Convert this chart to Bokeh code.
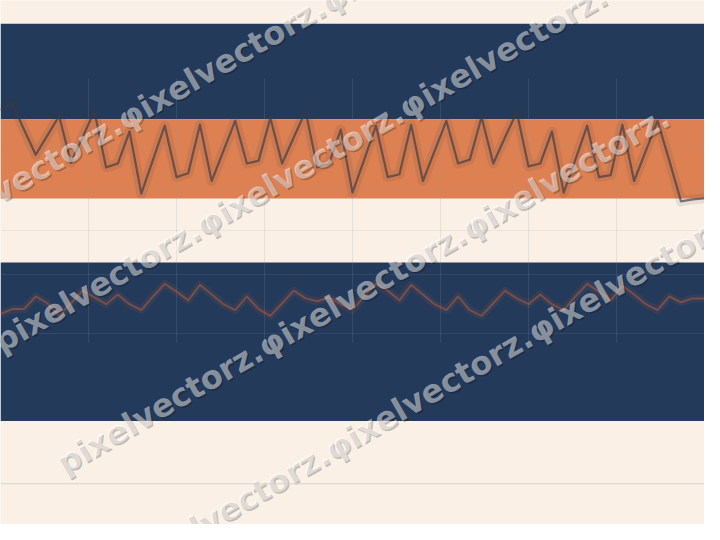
import math
import numpy as np
from bokeh.plotting import figure
from bokeh.models import Range1d, FixedTicker, Span, ColumnDataSource, Grid
from bokeh.core.properties import value
from bokeh.embed import file_html
from bokeh.resources import INLINE

# ---------------- data ----------------
x_index = list(range(61))
series_gray = [427, 434, 407, 381, 401, 421, 373, 399, 426, 368, 372, 405, 341, 376, 411,
               358, 362, 412, 354, 385, 416, 372, 375, 419, 372, 399, 426, 368, 372, 407,
               342, 376, 411, 358, 361, 412, 354, 385, 416, 372, 376, 420, 372, 399, 425,
               369, 372, 405, 342, 376, 411, 358, 360, 412, 354, 385, 416, 375, 333, 335, 336]
series_rust = [217, 222, 222, 235, 228, 215, 228, 241, 234, 227, 237, 227, 221, 235, 248,
               240, 231, 247, 237, 227, 221, 235, 222, 215, 228, 241, 233, 230, 234, 227,
               221, 235, 248, 241, 231, 247, 237, 227, 221, 235, 221, 215, 228, 241, 233,
               227, 237, 227, 221, 235, 248, 240, 231, 246, 237, 227, 221, 235, 229, 233, 233]
band_bottom = [417.5, 336, 106.7]
band_top = [516, 417.5, 270]
band_color = ["#243a5a", "#dd8052", "#243a5a"]
hgrid_values = [390, 346, 303, 258, 197]
baseline_value = 42
watermark_texts = [
    "pixelvectorz.φixelvectorz.φixelvectorz.",
    "pixelvectorz.φixelvectorz.φixelvectorz.",
    "pixelvectorz.φixelvectorz.φixelvectorz.",
    "pixelvectorz.φixelvectorz.φixelvectorz.φixelvectorz.",
]

# ---------------- figure ----------------
CREAM = "#faf0e6"
p = figure(width=704, height=524, output_backend="svg", toolbar_location=None,
           x_range=Range1d(0, 60), y_range=Range1d(0, 540),
           min_border=0, background_fill_color=CREAM, border_fill_color=CREAM,
           outline_line_color=None)
p.xaxis.visible = False
p.yaxis.visible = False

p.xgrid.ticker = FixedTicker(ticks=list(np.arange(7.5, 60, 7.5)))
p.xgrid.grid_line_color = "#8a9bb0"
p.xgrid.grid_line_alpha = 0.18
if "cross_bounds" in Grid.properties():
    p.xgrid.cross_bounds = (188, 460)
p.ygrid.ticker = FixedTicker(ticks=hgrid_values)
p.ygrid.grid_line_color = "#8a9bb0"
p.ygrid.grid_line_alpha = 0.15

bands = p.quad(left=min(x_index), right=max(x_index), bottom=band_bottom, top=band_top,
               fill_color=band_color, line_color=None)
bands.level = "image"

p.add_layout(Span(location=baseline_value, dimension="width", line_color="#d9d2cb", line_width=1))

# lines with soft halo
p.line(x_index, series_gray, line_color="#3a3a44", line_alpha=0.10, line_width=10, line_join="round")
p.line(x_index, series_gray, line_color="#3a3a44", line_alpha=0.66, line_width=2.2, line_join="round")
p.line(x_index, series_rust, line_color="#c0603a", line_alpha=0.10, line_width=8, line_join="round")
p.line(x_index, series_rust, line_color="#c0603a", line_alpha=0.48, line_width=2, line_join="round")

# watermark (positions given in reference pixels, converted to data units)
starts_px = [(-84, 245), (-4, 354), (60, 479), (-80, 706)]
wm = ColumnDataSource(dict(
    x=[sx / 12 for sx, sy in starts_px],
    y=[540 - sy for sx, sy in starts_px],
    text=watermark_texts,
))
ang = math.radians(30)
p.text(x="x", y="y", text="text", source=wm, angle=ang, x_offset=1.5, y_offset=1.5,
       text_font=value("DejaVu Sans"), text_font_style="bold", text_font_size="32px",
       text_color="#000000", text_alpha=0.24, text_baseline="alphabetic", text_align="left")
p.text(x="x", y="y", text="text", source=wm, angle=ang,
       text_font=value("DejaVu Sans"), text_font_style="bold", text_font_size="32px",
       text_color="#ffffff", text_alpha=0.48, text_baseline="alphabetic", text_align="left")

open("out.html", "w").write(file_html(p, INLINE))
